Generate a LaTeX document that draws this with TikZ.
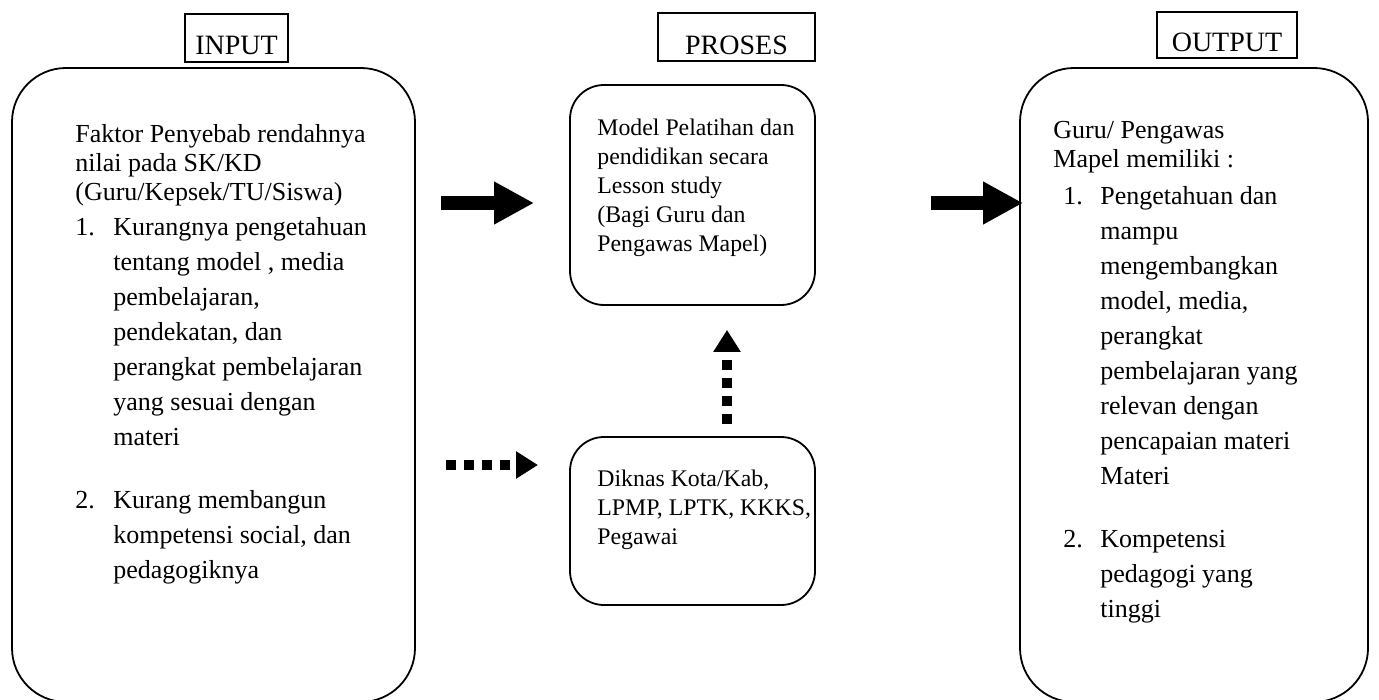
\documentclass[tikz,border=0pt]{standalone}
\usepackage{fontspec}
\setmainfont{Liberation Serif}
\usetikzlibrary{arrows.meta,positioning}

\tikzset{
  bigbox/.style={draw, line width=0.9pt, rounded corners=27pt, inner sep=0pt},
  midbox/.style={draw, line width=0.9pt, rounded corners=17pt, inner sep=0pt},
  hdr/.style={draw, line width=1pt, inner sep=0pt, font=\fontsize{14}{16}\selectfont,
    text height=17pt, text depth=0pt},
  txt/.style={align=left, inner sep=0pt, anchor=north west, font=\fontsize{13}{14.5}\selectfont},
  midtxt/.style={txt, font=\fontsize{11.9}{14.5}\selectfont},
  bigarrow/.style={line width=7pt, -{Triangle[length=20pt,width=20pt]}},
  dotarrow/.style={line width=5pt, dash pattern=on 5pt off 4pt, -{Triangle[length=11pt,width=13pt]}}
}
\newcommand{\num}[1]{\makebox[19pt][l]{#1}}
\newcommand{\ind}{\hspace*{19pt}}

\begin{document}
\begin{tikzpicture}[x=0.5pt,y=-0.5pt]
  \useasboundingbox (0,0) rectangle (1379,700);

  % judul
  \node[hdr, minimum width=51.5pt, minimum height=24pt] (hin) at (236.5,38) {INPUT};
  \node[hdr, minimum width=78.5pt, minimum height=24pt] (hpro) at (736.5,37.5) {PROSES};
  \node[hdr, minimum width=70pt, minimum height=23pt] (hout) at (1227,35) {OUTPUT};

  % kotak
  \node[bigbox, minimum width=201.5pt, minimum height=317pt] (input) at (213.5,385) {};
  \node[midbox, minimum width=122.5pt, minimum height=110pt] (model) at (692.5,195) {};
  \node[midbox, minimum width=122.5pt, minimum height=84pt] (diknas) at (692.5,521) {};
  \node[bigbox, minimum width=174pt, minimum height=317pt] (output) at (1194,385) {};

  % isi kotak
  \node[txt] (intxt) at (75,124) {%
    Faktor Penyebab rendahnya\\
    nilai pada SK/KD\\
    (Guru/Kepsek/TU/Siswa)\\[3pt]
    \num{1.}Kurangnya pengetahuan\\[3pt]
    \ind tentang model , media\\[3pt]
    \ind pembelajaran,\\[3pt]
    \ind pendekatan, dan\\[3pt]
    \ind perangkat pembelajaran\\[3pt]
    \ind yang sesuai dengan\\[3pt]
    \ind materi\\[17pt]
    \num{2.}Kurang membangun\\[3pt]
    \ind kompetensi social, dan\\[3pt]
    \ind pedagogiknya};
  \node[midtxt] (modtxt) at (597,119) {%
    Model Pelatihan dan\\
    pendidikan secara\\
    Lesson study\\
    (Bagi Guru dan\\
    Pengawas Mapel)};
  \node[midtxt] (diktxt) at (597,470) {%
    Diknas Kota/Kab,\\
    LPMP, LPTK, KKKS,\\
    Pegawai};
  \node[txt] (outtxt) at (1053,121) {%
    Guru/ Pengawas\\
    Mapel memiliki :\\[4pt]
    \hspace*{5pt}\makebox[18.5pt][l]{1.}Pengetahuan dan\\[3pt]
    \hspace*{23.5pt}mampu\\[3pt]
    \hspace*{23.5pt}mengembangkan\\[3pt]
    \hspace*{23.5pt}model, media,\\[3pt]
    \hspace*{23.5pt}perangkat\\[3pt]
    \hspace*{23.5pt}pembelajaran yang\\[3pt]
    \hspace*{23.5pt}relevan dengan\\[3pt]
    \hspace*{23.5pt}pencapaian materi\\[3pt]
    \hspace*{23.5pt}Materi\\[17pt]
    \hspace*{5pt}\makebox[18.5pt][l]{2.}Kompetensi\\[3pt]
    \hspace*{23.5pt}pedagogi yang\\[3pt]
    \hspace*{23.5pt}tinggi};

  % panah
  \draw[bigarrow, shorten <=12.5pt, shorten >=17.5pt]
    ([yshift=-4pt]input.east |- model.west) -- ([yshift=-4pt]model.west);
  \draw[bigarrow, shorten <=57.5pt, shorten >=-2pt]
    ([yshift=-4pt]model.east) -- ([yshift=-4pt]output.west |- model.east);
  \coordinate (dk) at (570,465);
  \draw[dotarrow, shorten <=15pt, shorten >=16pt] (input.east |- dk) -- (dk);
  \draw[dotarrow, shorten <=6pt, shorten >=12pt]
    ([xshift=17.25pt]diknas.north) -- ([xshift=17.25pt]model.south);
\end{tikzpicture}
\end{document}
